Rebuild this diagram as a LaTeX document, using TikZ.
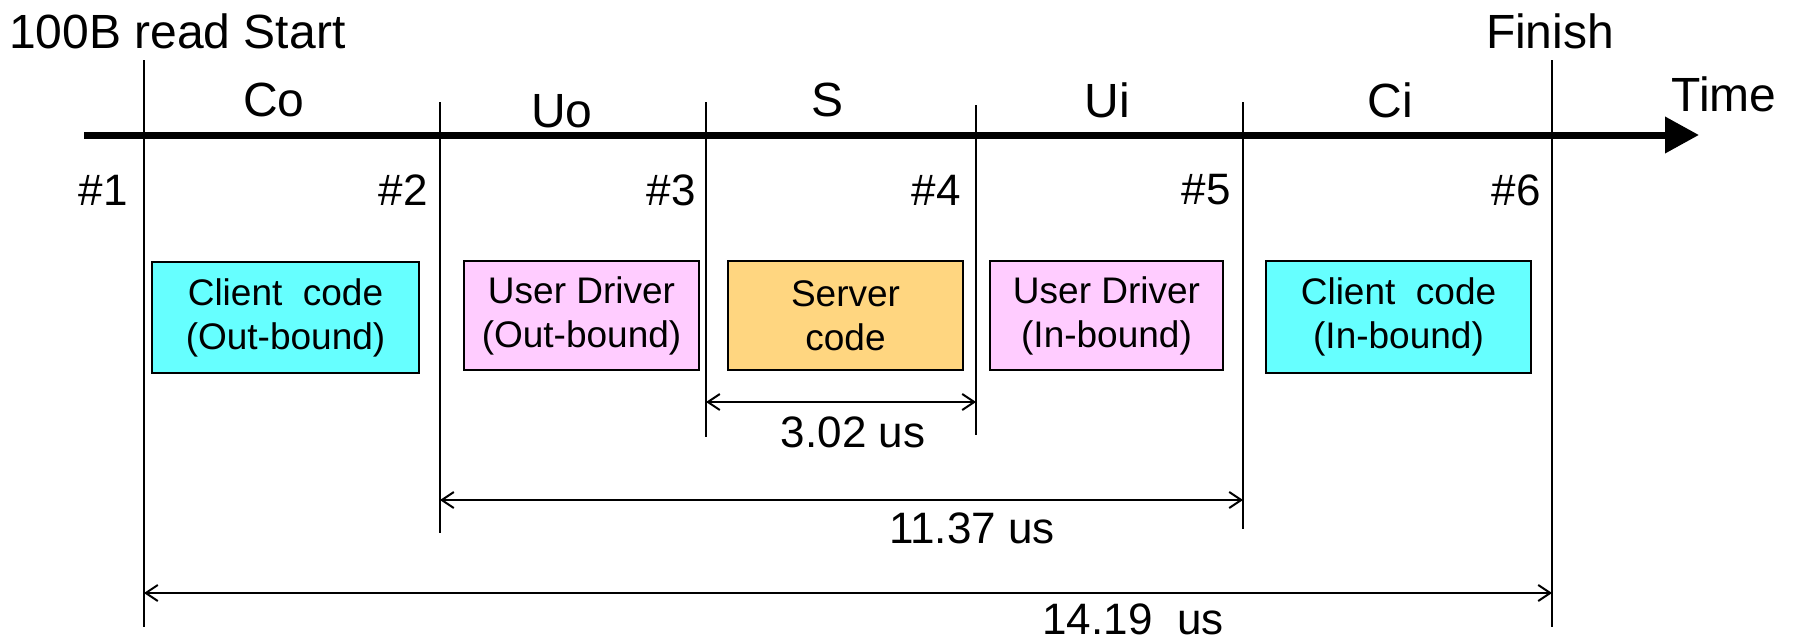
\documentclass[tikz,border=0pt]{standalone}
\usepackage{fontspec}
\setmainfont{Liberation Sans}
\usetikzlibrary{arrows.meta}
\definecolor{cyanbox}{RGB}{102,255,255}
\definecolor{pinkbox}{RGB}{255,204,255}
\definecolor{orangebox}{RGB}{255,214,128}
\begin{document}
\begin{tikzpicture}[x=1pt,y=-1pt,
  lbl/.style={font=\fontsize{44}{53}\selectfont, inner sep=0pt},
  biglbl/.style={font=\fontsize{48}{58}\selectfont, inner sep=0pt},
  codebox/.style={draw=black, line width=2pt, font=\fontsize{37}{44}\selectfont, align=center, inner sep=0pt},
  tickline/.style={line width=1.8pt},
  dimline/.style={line width=2pt, {Straight Barb[length=12pt,width=16pt,line width=2pt]}-{Straight Barb[length=12pt,width=16pt,line width=2pt]}},
]
\useasboundingbox (0,0) rectangle (1795,640);
% axis
\coordinate (axL) at (84,135);
\coordinate (axR) at (1699,135);
\draw[line width=7pt, -{Triangle[length=34pt,width=35pt]}] (axL) -- (axR);
% vertical lines
\coordinate (t1) at (144,60);  \coordinate (b1) at (144,627);
\coordinate (t2) at (440,102); \coordinate (b2) at (440,533);
\coordinate (t3) at (706,102); \coordinate (b3) at (706,437);
\coordinate (t4) at (976,105); \coordinate (b4) at (976,435);
\coordinate (t5) at (1243,102); \coordinate (b5) at (1243,529);
\coordinate (t6) at (1552,60); \coordinate (b6) at (1552,627);
\foreach \i in {1,...,6} { \draw[tickline] (t\i) -- (b\i); }
% top labels
\node[biglbl, anchor=west] (start) at (9,31) {100B read Start};
\node[biglbl] (finish) at (1550,31) {Finish};
\node[biglbl] (co) at (274,100) {Co};
\node[biglbl] (uo) at (562,111) {Uo};
\node[biglbl] (s) at (827,100) {S};
\node[biglbl] (ui) at (1107,100) {Ui};
\node[biglbl] (ci) at (1390,100) {Ci};
\node[biglbl] (time) at (1724,94) {Time};
% point labels
\node[lbl, anchor=east] (p1) at (128,190) {\#1};
\node[lbl, anchor=east] (p2) at (428,190) {\#2};
\node[lbl, anchor=east] (p3) at (696,190) {\#3};
\node[lbl, anchor=east] (p4) at (961,190) {\#4};
\node[lbl, anchor=east] (p5) at (1231,190) {\#5};
\node[lbl, anchor=east] (p6) at (1541,190) {\#6};
% boxes
\node[codebox, fill=cyanbox, minimum width=267pt, minimum height=111pt] (bco) at (285.5,317.5) {Client~~code\\(Out-bound)};
\node[codebox, fill=pinkbox, minimum width=235pt, minimum height=109pt] (buo) at (581.5,315.5) {User Driver\\(Out-bound)};
\node[codebox, fill=orangebox, minimum width=235pt, minimum height=109pt] (bs) at (845.5,315.5) {Server\\code};
\node[codebox, fill=pinkbox, minimum width=233pt, minimum height=109pt] (bui) at (1106.5,315.5) {User Driver\\(In-bound)};
\node[codebox, fill=cyanbox, minimum width=265pt, minimum height=112pt] (bci) at (1398.5,317) {Client~~code\\(In-bound)};
% dimensions
\coordinate (d1a) at (706,402); \coordinate (d1b) at (976,402);
\coordinate (d2a) at (440,500); \coordinate (d2b) at (1243,500);
\coordinate (d3a) at (144,593); \coordinate (d3b) at (1552,593);
\draw[dimline] (d1a) -- (d1b);
\draw[dimline] (d2a) -- (d2b);
\draw[dimline] (d3a) -- (d3b);
\node[lbl] (l1) at (853,432) {3.02 us};
\node[lbl] (l2) at (972,528) {11.37 us};
\node[lbl] (l3) at (1133,619) {14.19~~us};
\end{tikzpicture}
\end{document}
